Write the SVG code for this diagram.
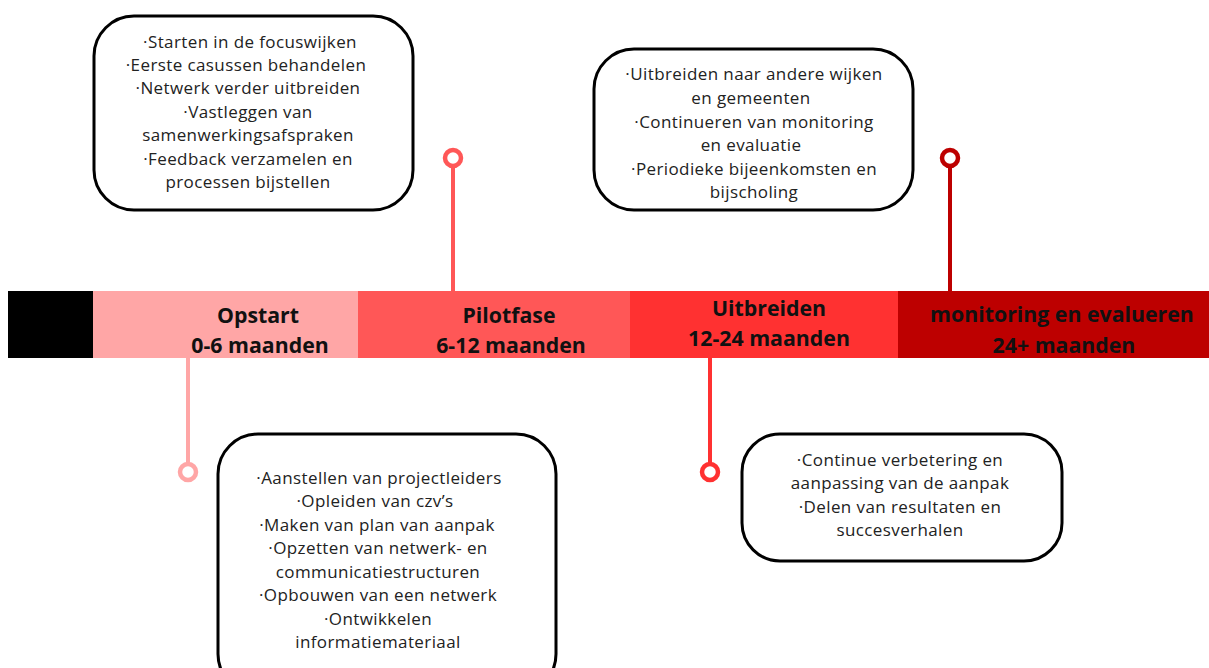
<svg xmlns="http://www.w3.org/2000/svg" width="1209" height="668" viewBox="0 0 1209 668">
<style>
.box{fill:#fff;stroke:#000;stroke-width:3}
.t{font-family:"Open Sans","Liberation Sans",sans-serif;font-size:17px;letter-spacing:0.4px;fill:#222;text-anchor:middle}
.h{font-family:"Open Sans","Liberation Sans",sans-serif;font-size:21.3px;font-weight:bold;fill:#111;text-anchor:middle}
.stem{stroke-width:4;fill:none}
.dot{fill:#fff;stroke-width:4.5}
</style>
<rect width="1209" height="668" fill="#fff"/>
<g id="bar">
<rect x="8" y="291" width="85" height="67" fill="#000"/>
<rect x="93" y="291" width="265" height="67" fill="#FFA6A6"/>
<rect x="358" y="291" width="272" height="67" fill="#FF5757"/>
<rect x="630" y="291" width="268" height="67" fill="#FF3131"/>
<rect x="898" y="291" width="311" height="67" fill="#BD0000"/>
</g>
<g id="connectors">
<line class="stem" x1="453" y1="165" x2="453" y2="291" stroke="#FF5757"/>
<circle class="dot" cx="453" cy="158" r="8" stroke="#FF5757"/>
<line class="stem" x1="950" y1="165" x2="950" y2="291" stroke="#BD0000"/>
<circle class="dot" cx="950" cy="158" r="8" stroke="#BD0000"/>
<line class="stem" x1="188" y1="358" x2="188" y2="465" stroke="#FFA6A6"/>
<circle class="dot" cx="188" cy="472" r="8" stroke="#FFA6A6"/>
<line class="stem" x1="710" y1="358" x2="710" y2="465" stroke="#FF3131"/>
<circle class="dot" cx="710" cy="472" r="8" stroke="#FF3131"/>
</g>
<g id="opstart">
<text class="h" x="258" y="323">Opstart</text>
<text class="h" x="260" y="353">0-6 maanden</text>
</g>
<g id="pilotfase">
<text class="h" x="509" y="323">Pilotfase</text>
<text class="h" x="511" y="353">6-12 maanden</text>
</g>
<g id="uitbreiden">
<text class="h" x="769" y="316">Uitbreiden</text>
<text class="h" x="769" y="346">12-24 maanden</text>
</g>
<g id="monitoring">
<text class="h" x="1062" y="322">monitoring en evalueren</text>
<text class="h" x="1064" y="353">24+ maanden</text>
</g>
<g id="box-pilot">
<rect class="box" x="94" y="16" width="319" height="194" rx="40"/>
<text class="t" x="250" y="48">·Starten in de focuswijken</text>
<text class="t" x="246" y="71">·Eerste casussen behandelen</text>
<text class="t" x="248" y="94">·Netwerk verder uitbreiden</text>
<text class="t" x="248" y="118">·Vastleggen van</text>
<text class="t" x="248" y="141">samenwerkingsafspraken</text>
<text class="t" x="248" y="165">·Feedback verzamelen en</text>
<text class="t" x="248" y="188">processen bijstellen</text>
</g>
<g id="box-monitoring">
<rect class="box" x="594" y="49" width="319" height="161" rx="40"/>
<text class="t" x="754" y="80">·Uitbreiden naar andere wijken</text>
<text class="t" x="751" y="104">en gemeenten</text>
<text class="t" x="754" y="128">·Continueren van monitoring</text>
<text class="t" x="751" y="151">en evaluatie</text>
<text class="t" x="754" y="175">·Periodieke bijeenkomsten en</text>
<text class="t" x="754" y="198">bijscholing</text>
</g>
<g id="box-opstart">
<rect class="box" x="218" y="434" width="338" height="260" rx="40"/>
<text class="t" x="379" y="484">·Aanstellen van projectleiders</text>
<text class="t" x="375" y="507">·Opleiden van czv’s</text>
<text class="t" x="377" y="531">·Maken van plan van aanpak</text>
<text class="t" x="378" y="554">·Opzetten van netwerk- en</text>
<text class="t" x="378" y="578">communicatiestructuren</text>
<text class="t" x="378" y="601">·Opbouwen van een netwerk</text>
<text class="t" x="378" y="625">·Ontwikkelen</text>
<text class="t" x="378" y="648">informatiemateriaal</text>
</g>
<g id="box-uitbreiden">
<rect class="box" x="742" y="434" width="320" height="127" rx="38"/>
<text class="t" x="900" y="466">·Continue verbetering en</text>
<text class="t" x="900" y="489">aanpassing van de aanpak</text>
<text class="t" x="900" y="513">·Delen van resultaten en</text>
<text class="t" x="900" y="536">succesverhalen</text>
</g>
</svg>
